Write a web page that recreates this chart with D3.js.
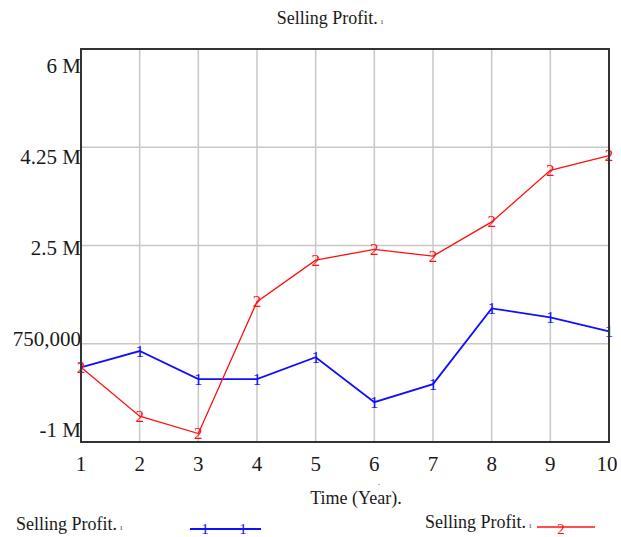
<!DOCTYPE html>
<html>
<head>
<meta charset="utf-8">
<script src="https://cdn.jsdelivr.net/npm/d3@7"></script>
<style>
  html, body { margin: 0; padding: 0; background: #fff; }
  svg { display: block; font-family: "Liberation Serif", "Times New Roman", serif; }
</style>
</head>
<body>
<svg id="chart" width="621" height="537"></svg>
<script>
const years = [1, 2, 3, 4, 5, 6, 7, 8, 9, 10];
const profit1 = [330000, 620000, 120000, 120000, 510000, -290000, 30000, 1380000, 1220000, 970000];
const profit2 = [330000, -540000, -850000, 1500000, 2240000, 2430000, 2310000, 2920000, 3840000, 4100000];
const yTicks = [-1000000, 750000, 2500000, 4250000, 6000000];
const yTickLabels = ["-1 M", "750,000", "2.5 M", "4.25 M", "6 M"];
const titleText = "Selling Profit.";
const xAxisTitle = "Time (Year).";
const seriesNames = ["Selling Profit.", "Selling Profit."];
const seriesMarkers = ["1", "2"];
const seriesColors = ["#1010ff", "#ff1010"];

const svg = d3.select("#chart");
const pL = 81, pR = 609, pT = 49, pB = 442;

const x = d3.scaleLinear().domain([1, 10]).range([pL, pR]);
const y = d3.scaleLinear().domain([-1000000, 6000000]).range([pB, pT]);
// label baselines are spread inside the frame (Vensim style)
const yLab = d3.scaleLinear().domain([-1000000, 6000000]).range([437, 73]);

// grid
svg.append("g").selectAll("line").data(years.slice(1, -1)).join("line")
  .attr("x1", d => x(d)).attr("x2", d => x(d))
  .attr("y1", pT).attr("y2", pB)
  .attr("stroke", "#c8c8c8").attr("stroke-width", 1.5);
svg.append("g").selectAll("line").data(yTicks.slice(1, -1)).join("line")
  .attr("x1", pL).attr("x2", pR)
  .attr("y1", d => y(d)).attr("y2", d => y(d))
  .attr("stroke", "#c8c8c8").attr("stroke-width", 1.5);

// series
const series = [profit1, profit2];
series.forEach((vals, i) => {
  const pts = years.map((yr, j) => [yr, vals[j]]);
  svg.append("path")
    .attr("d", d3.line().x(d => x(d[0])).y(d => y(d[1]))(pts))
    .attr("fill", "none")
    .attr("stroke", seriesColors[i])
    .attr("stroke-width", i === 0 ? 1.8 : 1.3);
  svg.append("g").selectAll("text").data(pts).join("text")
    .attr("x", d => x(d[0])).attr("y", d => y(d[1]))
    .attr("text-anchor", "middle")
    .attr("dominant-baseline", "central")
    .attr("font-size", 17)
    .attr("fill", seriesColors[i])
    .text(seriesMarkers[i]);
});

// frame
svg.append("rect")
  .attr("x", pL).attr("y", pT)
  .attr("width", pR - pL).attr("height", pB - pT)
  .attr("fill", "none").attr("stroke", "#333").attr("stroke-width", 2);

// y labels
svg.append("g").selectAll("text").data(yTicks).join("text")
  .attr("x", 81).attr("y", d => yLab(d))
  .attr("text-anchor", "end")
  .attr("font-size", 21)
  .attr("fill", "#1a1a1a")
  .text((d, i) => yTickLabels[i]);

// x labels
svg.append("g").selectAll("text").data(years).join("text")
  .attr("x", d => x(d) - (d === 10 ? 2 : 0)).attr("y", 471)
  .attr("text-anchor", "middle")
  .attr("font-size", 21)
  .attr("fill", "#1a1a1a")
  .text(d => d);

svg.append("text").attr("x", 379).attr("y", 485)
  .attr("text-anchor", "middle").attr("font-size", 8).attr("fill", "#222").text(".");

function labelWithMark(sel, txt) {
  sel.append("tspan").text(txt);
  sel.append("tspan").attr("font-size", 9).attr("dx", 3).attr("fill", "#555").text("ı");
}

// title
labelWithMark(svg.append("text").attr("x", 330).attr("y", 24)
  .attr("text-anchor", "middle").attr("font-size", 18).attr("fill", "#1a1a1a"), titleText);

// x axis title
svg.append("text").attr("x", 356).attr("y", 504)
  .attr("text-anchor", "middle").attr("font-size", 18).attr("fill", "#1a1a1a")
  .text(xAxisTitle);

// legend
const legend = [
  { tx: 16, ty: 530, lx1: 190, lx2: 261, ly: 529, marks: [205, 243] },
  { tx: 425, ty: 528, lx1: 537, lx2: 595, ly: 527, marks: [561] }
];
legend.forEach((L, i) => {
  labelWithMark(svg.append("text").attr("x", L.tx).attr("y", L.ty)
    .attr("font-size", 18).attr("fill", "#1a1a1a"), seriesNames[i]);
  svg.append("line").attr("x1", L.lx1).attr("x2", L.lx2)
    .attr("y1", L.ly).attr("y2", L.ly)
    .attr("stroke", seriesColors[i]).attr("stroke-width", i === 0 ? 2.2 : 1.5);
  L.marks.forEach(m => {
    svg.append("text").attr("x", m).attr("y", L.ly + (i === 0 ? 0 : 2))
      .attr("text-anchor", "middle").attr("dominant-baseline", "central")
      .attr("font-size", 15).attr("fill", seriesColors[i]).text(seriesMarkers[i]);
  });
});
</script>
</body>
</html>
